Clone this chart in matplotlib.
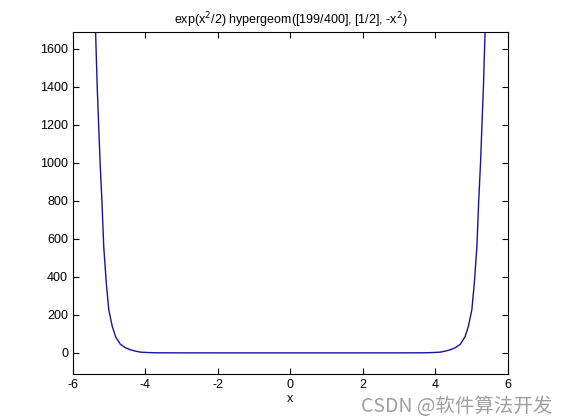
"""ezplot-style curve: exp(x^2/2) hypergeom([199/400], [1/2], -x^2)."""

import matplotlib
matplotlib.use("Agg")
import matplotlib.pyplot as plt

# ── Data ──────────────────────────────────────────────────────────────────────
X_VALS = [-5.42, -5.375, -5.33, -5.29, -5.25, -5.20, -5.15, -5.08, -5.01,
          -4.915, -4.825, -4.69, -4.55, -4.41, -4.27, -4.14, -3.90, -3.68,
          -3.0, -2.0, -1.0, 0.0, 1.0, 2.0, 3.0,
          3.68, 3.90, 4.14, 4.27, 4.41, 4.55, 4.69, 4.825, 4.915,
          5.01, 5.08, 5.15, 5.20, 5.25, 5.29, 5.33, 5.375, 5.42]
Y_VALS = [1900, 1690, 1400, 1200, 1000, 800, 560, 370, 226,
          140, 86, 45, 27, 16, 9, 4, 1.5, 0.5,
          0.1, 0.05, 0.03, 0.03, 0.03, 0.05, 0.1,
          0.5, 1.5, 4, 9, 16, 27, 45, 86, 140,
          226, 370, 560, 800, 1000, 1200, 1400, 1690, 1900]

X_TICKS = [-6, -4, -2, 0, 2, 4, 6]
Y_TICKS = [0, 200, 400, 600, 800, 1000, 1200, 1400, 1600]
TITLE = r"exp(x$^{2}$/2) hypergeom([199/400], [1/2], -x$^{2}$)"
WATERMARK = "CSDN @软件算法开发"

# ── Figure ───────────────────────────────────────────────────────────────────
plt.rcParams["font.family"] = ["Liberation Sans", "DejaVu Sans"]
plt.rcParams["axes.unicode_minus"] = False

fig = plt.figure(figsize=(5.61, 4.20), dpi=100)
ax = fig.add_axes([0.13, 0.11, 0.775, 0.815])

ax.plot(X_VALS, Y_VALS, color="#14149a", linewidth=1.0)

ax.set_xlim(-6, 6)
ax.set_ylim(-110, 1690)
ax.set_xticks(X_TICKS)
ax.set_yticks(Y_TICKS)
ax.tick_params(direction="in", length=4, width=0.8, labelsize=9,
               top=True, right=True)
for sp in ax.spines.values():
    sp.set_linewidth(0.8)

ax.set_title(TITLE, fontsize=9, pad=5)
ax.set_xlabel("x", fontsize=9, labelpad=2)

fig.text(0.985, 0.008, WATERMARK, ha="right", va="bottom", fontsize=14,
         color="#a0a0a0", family=["Noto Sans CJK SC", "DejaVu Sans"])

fig.savefig("out.png", dpi=100)
